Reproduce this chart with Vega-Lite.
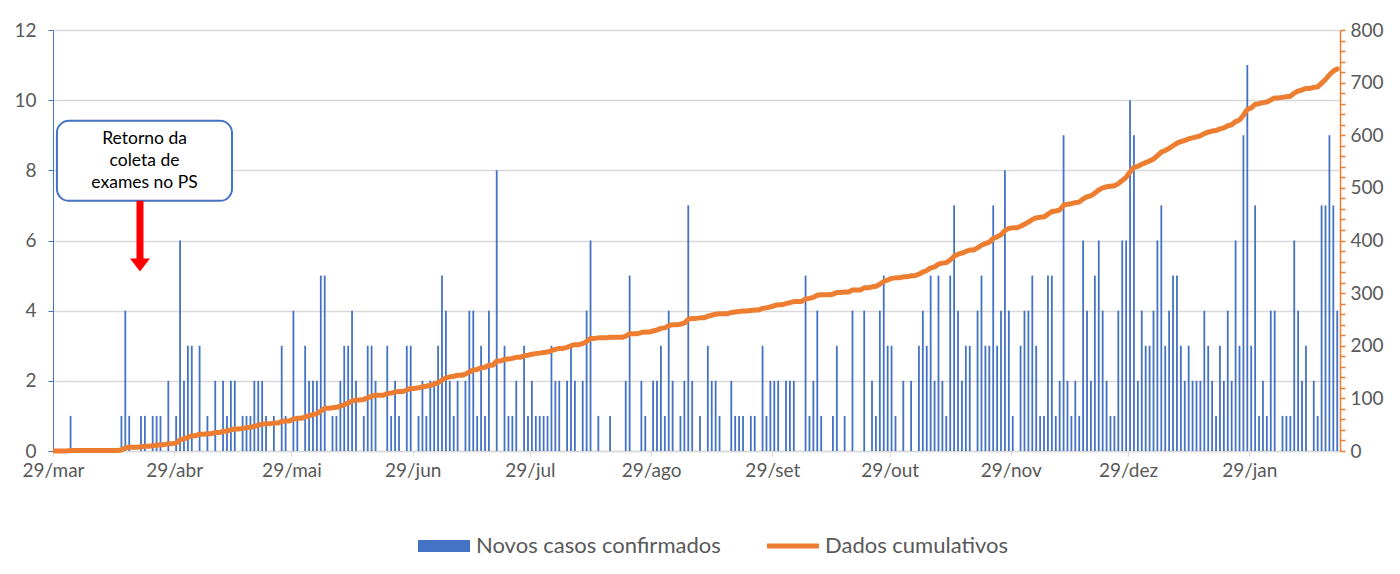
{
"$schema": "https://vega.github.io/schema/vega-lite/v6.json",
"width": 1287,
"height": 421,
"autosize": {"type": "none"},
"padding": {"left": 53, "top": 30, "right": 60, "bottom": 123},
"background": "white",
"config": {"font": "Lato", "view": {"stroke": null}},
"data": {"values": [
{"dia":"2020-03-29","casos":0},{"dia":"2020-03-30","casos":0},{"dia":"2020-03-31","casos":0},
{"dia":"2020-04-01","casos":0},{"dia":"2020-04-02","casos":1},{"dia":"2020-04-03","casos":0},{"dia":"2020-04-04","casos":0},{"dia":"2020-04-05","casos":0},{"dia":"2020-04-06","casos":0},{"dia":"2020-04-07","casos":0},{"dia":"2020-04-08","casos":0},{"dia":"2020-04-09","casos":0},{"dia":"2020-04-10","casos":0},{"dia":"2020-04-11","casos":0},{"dia":"2020-04-12","casos":0},{"dia":"2020-04-13","casos":0},{"dia":"2020-04-14","casos":0},{"dia":"2020-04-15","casos":1},{"dia":"2020-04-16","casos":4},{"dia":"2020-04-17","casos":1},{"dia":"2020-04-18","casos":0},{"dia":"2020-04-19","casos":0},{"dia":"2020-04-20","casos":1},{"dia":"2020-04-21","casos":1},{"dia":"2020-04-22","casos":0},{"dia":"2020-04-23","casos":1},{"dia":"2020-04-24","casos":1},{"dia":"2020-04-25","casos":1},{"dia":"2020-04-26","casos":0},{"dia":"2020-04-27","casos":2},{"dia":"2020-04-28","casos":0},{"dia":"2020-04-29","casos":1},{"dia":"2020-04-30","casos":6},
{"dia":"2020-05-01","casos":2},{"dia":"2020-05-02","casos":3},{"dia":"2020-05-03","casos":3},{"dia":"2020-05-04","casos":0},{"dia":"2020-05-05","casos":3},{"dia":"2020-05-06","casos":0},{"dia":"2020-05-07","casos":1},{"dia":"2020-05-08","casos":0},{"dia":"2020-05-09","casos":2},{"dia":"2020-05-10","casos":0},{"dia":"2020-05-11","casos":2},{"dia":"2020-05-12","casos":1},{"dia":"2020-05-13","casos":2},{"dia":"2020-05-14","casos":2},{"dia":"2020-05-15","casos":0},{"dia":"2020-05-16","casos":1},{"dia":"2020-05-17","casos":1},{"dia":"2020-05-18","casos":1},{"dia":"2020-05-19","casos":2},{"dia":"2020-05-20","casos":2},{"dia":"2020-05-21","casos":2},{"dia":"2020-05-22","casos":1},{"dia":"2020-05-23","casos":0},{"dia":"2020-05-24","casos":1},{"dia":"2020-05-25","casos":0},{"dia":"2020-05-26","casos":3},{"dia":"2020-05-27","casos":1},{"dia":"2020-05-28","casos":0},{"dia":"2020-05-29","casos":4},{"dia":"2020-05-30","casos":1},{"dia":"2020-05-31","casos":0},
{"dia":"2020-06-01","casos":3},{"dia":"2020-06-02","casos":2},{"dia":"2020-06-03","casos":2},{"dia":"2020-06-04","casos":2},{"dia":"2020-06-05","casos":5},{"dia":"2020-06-06","casos":5},{"dia":"2020-06-07","casos":0},{"dia":"2020-06-08","casos":1},{"dia":"2020-06-09","casos":1},{"dia":"2020-06-10","casos":2},{"dia":"2020-06-11","casos":3},{"dia":"2020-06-12","casos":3},{"dia":"2020-06-13","casos":4},{"dia":"2020-06-14","casos":2},{"dia":"2020-06-15","casos":0},{"dia":"2020-06-16","casos":1},{"dia":"2020-06-17","casos":3},{"dia":"2020-06-18","casos":3},{"dia":"2020-06-19","casos":2},{"dia":"2020-06-20","casos":0},{"dia":"2020-06-21","casos":0},{"dia":"2020-06-22","casos":3},{"dia":"2020-06-23","casos":1},{"dia":"2020-06-24","casos":2},{"dia":"2020-06-25","casos":1},{"dia":"2020-06-26","casos":0},{"dia":"2020-06-27","casos":3},{"dia":"2020-06-28","casos":3},{"dia":"2020-06-29","casos":0},{"dia":"2020-06-30","casos":1},
{"dia":"2020-07-01","casos":2},{"dia":"2020-07-02","casos":1},{"dia":"2020-07-03","casos":2},{"dia":"2020-07-04","casos":2},{"dia":"2020-07-05","casos":3},{"dia":"2020-07-06","casos":5},{"dia":"2020-07-07","casos":4},{"dia":"2020-07-08","casos":2},{"dia":"2020-07-09","casos":1},{"dia":"2020-07-10","casos":2},{"dia":"2020-07-11","casos":0},{"dia":"2020-07-12","casos":2},{"dia":"2020-07-13","casos":4},{"dia":"2020-07-14","casos":4},{"dia":"2020-07-15","casos":1},{"dia":"2020-07-16","casos":3},{"dia":"2020-07-17","casos":1},{"dia":"2020-07-18","casos":4},{"dia":"2020-07-19","casos":0},{"dia":"2020-07-20","casos":8},{"dia":"2020-07-21","casos":0},{"dia":"2020-07-22","casos":3},{"dia":"2020-07-23","casos":1},{"dia":"2020-07-24","casos":1},{"dia":"2020-07-25","casos":2},{"dia":"2020-07-26","casos":0},{"dia":"2020-07-27","casos":3},{"dia":"2020-07-28","casos":1},{"dia":"2020-07-29","casos":2},{"dia":"2020-07-30","casos":1},{"dia":"2020-07-31","casos":1},
{"dia":"2020-08-01","casos":1},{"dia":"2020-08-02","casos":1},{"dia":"2020-08-03","casos":3},{"dia":"2020-08-04","casos":2},{"dia":"2020-08-05","casos":2},{"dia":"2020-08-06","casos":0},{"dia":"2020-08-07","casos":2},{"dia":"2020-08-08","casos":3},{"dia":"2020-08-09","casos":2},{"dia":"2020-08-10","casos":0},{"dia":"2020-08-11","casos":2},{"dia":"2020-08-12","casos":4},{"dia":"2020-08-13","casos":6},{"dia":"2020-08-14","casos":0},{"dia":"2020-08-15","casos":1},{"dia":"2020-08-16","casos":0},{"dia":"2020-08-17","casos":0},{"dia":"2020-08-18","casos":1},{"dia":"2020-08-19","casos":0},{"dia":"2020-08-20","casos":0},{"dia":"2020-08-21","casos":0},{"dia":"2020-08-22","casos":2},{"dia":"2020-08-23","casos":5},{"dia":"2020-08-24","casos":0},{"dia":"2020-08-25","casos":0},{"dia":"2020-08-26","casos":2},{"dia":"2020-08-27","casos":1},{"dia":"2020-08-28","casos":0},{"dia":"2020-08-29","casos":2},{"dia":"2020-08-30","casos":2},{"dia":"2020-08-31","casos":3},
{"dia":"2020-09-01","casos":1},{"dia":"2020-09-02","casos":4},{"dia":"2020-09-03","casos":2},{"dia":"2020-09-04","casos":0},{"dia":"2020-09-05","casos":1},{"dia":"2020-09-06","casos":2},{"dia":"2020-09-07","casos":7},{"dia":"2020-09-08","casos":2},{"dia":"2020-09-09","casos":0},{"dia":"2020-09-10","casos":1},{"dia":"2020-09-11","casos":0},{"dia":"2020-09-12","casos":3},{"dia":"2020-09-13","casos":2},{"dia":"2020-09-14","casos":2},{"dia":"2020-09-15","casos":1},{"dia":"2020-09-16","casos":0},{"dia":"2020-09-17","casos":0},{"dia":"2020-09-18","casos":2},{"dia":"2020-09-19","casos":1},{"dia":"2020-09-20","casos":1},{"dia":"2020-09-21","casos":1},{"dia":"2020-09-22","casos":0},{"dia":"2020-09-23","casos":1},{"dia":"2020-09-24","casos":1},{"dia":"2020-09-25","casos":0},{"dia":"2020-09-26","casos":3},{"dia":"2020-09-27","casos":1},{"dia":"2020-09-28","casos":2},{"dia":"2020-09-29","casos":2},{"dia":"2020-09-30","casos":2},
{"dia":"2020-10-01","casos":0},{"dia":"2020-10-02","casos":2},{"dia":"2020-10-03","casos":2},{"dia":"2020-10-04","casos":2},{"dia":"2020-10-05","casos":0},{"dia":"2020-10-06","casos":0},{"dia":"2020-10-07","casos":5},{"dia":"2020-10-08","casos":1},{"dia":"2020-10-09","casos":2},{"dia":"2020-10-10","casos":4},{"dia":"2020-10-11","casos":1},{"dia":"2020-10-12","casos":0},{"dia":"2020-10-13","casos":0},{"dia":"2020-10-14","casos":1},{"dia":"2020-10-15","casos":3},{"dia":"2020-10-16","casos":0},{"dia":"2020-10-17","casos":1},{"dia":"2020-10-18","casos":0},{"dia":"2020-10-19","casos":4},{"dia":"2020-10-20","casos":0},{"dia":"2020-10-21","casos":0},{"dia":"2020-10-22","casos":4},{"dia":"2020-10-23","casos":0},{"dia":"2020-10-24","casos":2},{"dia":"2020-10-25","casos":1},{"dia":"2020-10-26","casos":4},{"dia":"2020-10-27","casos":5},{"dia":"2020-10-28","casos":3},{"dia":"2020-10-29","casos":3},{"dia":"2020-10-30","casos":1},{"dia":"2020-10-31","casos":0},
{"dia":"2020-11-01","casos":2},{"dia":"2020-11-02","casos":0},{"dia":"2020-11-03","casos":2},{"dia":"2020-11-04","casos":0},{"dia":"2020-11-05","casos":3},{"dia":"2020-11-06","casos":4},{"dia":"2020-11-07","casos":3},{"dia":"2020-11-08","casos":5},{"dia":"2020-11-09","casos":2},{"dia":"2020-11-10","casos":5},{"dia":"2020-11-11","casos":2},{"dia":"2020-11-12","casos":1},{"dia":"2020-11-13","casos":5},{"dia":"2020-11-14","casos":7},{"dia":"2020-11-15","casos":4},{"dia":"2020-11-16","casos":2},{"dia":"2020-11-17","casos":3},{"dia":"2020-11-18","casos":3},{"dia":"2020-11-19","casos":0},{"dia":"2020-11-20","casos":4},{"dia":"2020-11-21","casos":5},{"dia":"2020-11-22","casos":3},{"dia":"2020-11-23","casos":3},{"dia":"2020-11-24","casos":7},{"dia":"2020-11-25","casos":3},{"dia":"2020-11-26","casos":4},{"dia":"2020-11-27","casos":8},{"dia":"2020-11-28","casos":4},{"dia":"2020-11-29","casos":1},{"dia":"2020-11-30","casos":0},
{"dia":"2020-12-01","casos":3},{"dia":"2020-12-02","casos":4},{"dia":"2020-12-03","casos":4},{"dia":"2020-12-04","casos":5},{"dia":"2020-12-05","casos":3},{"dia":"2020-12-06","casos":1},{"dia":"2020-12-07","casos":1},{"dia":"2020-12-08","casos":5},{"dia":"2020-12-09","casos":5},{"dia":"2020-12-10","casos":1},{"dia":"2020-12-11","casos":2},{"dia":"2020-12-12","casos":9},{"dia":"2020-12-13","casos":2},{"dia":"2020-12-14","casos":1},{"dia":"2020-12-15","casos":2},{"dia":"2020-12-16","casos":1},{"dia":"2020-12-17","casos":6},{"dia":"2020-12-18","casos":4},{"dia":"2020-12-19","casos":2},{"dia":"2020-12-20","casos":5},{"dia":"2020-12-21","casos":6},{"dia":"2020-12-22","casos":4},{"dia":"2020-12-23","casos":2},{"dia":"2020-12-24","casos":1},{"dia":"2020-12-25","casos":1},{"dia":"2020-12-26","casos":4},{"dia":"2020-12-27","casos":6},{"dia":"2020-12-28","casos":6},{"dia":"2020-12-29","casos":10},{"dia":"2020-12-30","casos":9},{"dia":"2020-12-31","casos":2},
{"dia":"2021-01-01","casos":4},{"dia":"2021-01-02","casos":3},{"dia":"2021-01-03","casos":3},{"dia":"2021-01-04","casos":4},{"dia":"2021-01-05","casos":6},{"dia":"2021-01-06","casos":7},{"dia":"2021-01-07","casos":3},{"dia":"2021-01-08","casos":4},{"dia":"2021-01-09","casos":5},{"dia":"2021-01-10","casos":5},{"dia":"2021-01-11","casos":3},{"dia":"2021-01-12","casos":2},{"dia":"2021-01-13","casos":3},{"dia":"2021-01-14","casos":2},{"dia":"2021-01-15","casos":2},{"dia":"2021-01-16","casos":2},{"dia":"2021-01-17","casos":4},{"dia":"2021-01-18","casos":3},{"dia":"2021-01-19","casos":2},{"dia":"2021-01-20","casos":1},{"dia":"2021-01-21","casos":3},{"dia":"2021-01-22","casos":2},{"dia":"2021-01-23","casos":4},{"dia":"2021-01-24","casos":2},{"dia":"2021-01-25","casos":6},{"dia":"2021-01-26","casos":3},{"dia":"2021-01-27","casos":9},{"dia":"2021-01-28","casos":11},{"dia":"2021-01-29","casos":3},{"dia":"2021-01-30","casos":7},{"dia":"2021-01-31","casos":1},
{"dia":"2021-02-01","casos":2},{"dia":"2021-02-02","casos":1},{"dia":"2021-02-03","casos":4},{"dia":"2021-02-04","casos":4},{"dia":"2021-02-05","casos":0},{"dia":"2021-02-06","casos":1},{"dia":"2021-02-07","casos":1},{"dia":"2021-02-08","casos":1},{"dia":"2021-02-09","casos":6},{"dia":"2021-02-10","casos":4},{"dia":"2021-02-11","casos":2},{"dia":"2021-02-12","casos":3},{"dia":"2021-02-13","casos":0},{"dia":"2021-02-14","casos":2},{"dia":"2021-02-15","casos":1},{"dia":"2021-02-16","casos":7},{"dia":"2021-02-17","casos":7},{"dia":"2021-02-18","casos":9},{"dia":"2021-02-19","casos":7},{"dia":"2021-02-20","casos":4}
]},
"layer": [
{
"layer": [
{
"mark": {"type": "bar", "width": 1.8},
"encoding": {
"x": {"field": "dia", "type": "temporal",
"scale": {"type": "utc", "padding": 0, "domain": [{"year": 2020, "month": 3, "date": 28, "hours": 12, "utc": true}, {"year": 2021, "month": 2, "date": 20, "hours": 17, "utc": true}]},
"axis": {"title": null, "grid": false,
"values": [{"year": 2020, "month": 3, "date": 28, "hours": 12, "utc": true}, {"year": 2020, "month": 4, "date": 28, "hours": 12, "utc": true}, {"year": 2020, "month": 5, "date": 28, "hours": 12, "utc": true}, {"year": 2020, "month": 6, "date": 28, "hours": 12, "utc": true}, {"year": 2020, "month": 7, "date": 28, "hours": 12, "utc": true}, {"year": 2020, "month": 8, "date": 28, "hours": 12, "utc": true}, {"year": 2020, "month": 9, "date": 28, "hours": 12, "utc": true}, {"year": 2020, "month": 10, "date": 28, "hours": 12, "utc": true}, {"year": 2020, "month": 11, "date": 28, "hours": 12, "utc": true}, {"year": 2020, "month": 12, "date": 28, "hours": 12, "utc": true}, {"year": 2021, "month": 1, "date": 28, "hours": 12, "utc": true}],
"labelExpr": "'29/' + ['jan','fev','mar','abr','mai','jun','jul','ago','set','out','nov','dez'][utcmonth(datum.value)]",
"domainColor": "#D9D9D9", "domainWidth": 1.3, "tickColor": "#D9D9D9", "tickSize": 5,
"labelColor": "#595959", "labelFontSize": 19, "labelPadding": 5, "labelFlush": false, "labelOverlap": false, "labelBound": false}},
"y": {"field": "casos", "type": "quantitative", "scale": {"domain": [0, 12]},
"axis": {"title": null, "values": [0, 2, 4, 6, 8, 10, 12], "grid": true, "gridColor": "#D9D9D9", "gridWidth": 1.3,
"domainColor": "#4472C4", "tickColor": "#4472C4", "tickSize": 5, "labelColor": "#595959", "labelFontSize": 19, "labelPadding": 12}},
"color": {"datum": "Novos casos confirmados", "type": "nominal",
"scale": {"domain": ["Novos casos confirmados", "Dados cumulativos"], "range": ["#4472C4", "#ED7D31"]},
"legend": {"orient": "none", "legendX": 365, "legendY": 490, "direction": "horizontal", "title": null, "padding": 0,
"symbolType": "M-1,-0.23L1,-0.23L1,0.23L-1,0.23Z", "symbolSize": 2704, "symbolStrokeWidth": 0,
"labelFontSize": 22, "labelColor": "#595959", "labelOffset": 6, "labelLimit": 600, "columnPadding": 46,
"encode": {"symbols": {"update": {
"shape": {"signal": "datum.value === 'Dados cumulativos' ? 'M-1,-0.1L1,-0.1L1,0.1L-1,0.1Z' : 'M-1,-0.23L1,-0.23L1,0.23L-1,0.23Z'"},
"fill": {"signal": "datum.value === 'Dados cumulativos' ? '#ED7D31' : '#4472C4'"},
"opacity": {"value": 1}, "strokeWidth": {"value": 0}}}}}}
}
},
{
"data": {"values": [{"inicio": "2020-03-29T12:00:00Z", "fim": "2020-05-13T07:00:00Z", "topo": 9.41, "base": 7.13}]},
"mark": {"type": "rect", "fill": "white", "stroke": "#4472C4", "strokeWidth": 2, "cornerRadius": 12},
"encoding": {
"x": {"field": "inicio", "type": "temporal", "title": null, "scale": {"type": "utc", "padding": 0, "domain": [{"year": 2020, "month": 3, "date": 28, "hours": 12, "utc": true}, {"year": 2021, "month": 2, "date": 20, "hours": 17, "utc": true}]}},
"x2": {"field": "fim"},
"y": {"field": "topo", "type": "quantitative", "title": null, "scale": {"domain": [0, 12]}},
"y2": {"field": "base"}
}
},
{
"data": {"values": [{"dia": "2020-04-20T22:00:00Z", "valor": 8.89, "texto": "Retorno da\ncoleta de\nexames no PS"}]},
"mark": {"type": "text", "fontSize": 17.5, "color": "#000000", "lineBreak": "\n", "lineHeight": 22, "align": "center", "baseline": "middle"},
"encoding": {
"x": {"field": "dia", "type": "temporal", "title": null, "scale": {"type": "utc", "padding": 0, "domain": [{"year": 2020, "month": 3, "date": 28, "hours": 12, "utc": true}, {"year": 2021, "month": 2, "date": 20, "hours": 17, "utc": true}]}},
"y": {"field": "valor", "type": "quantitative", "title": null, "scale": {"domain": [0, 12]}},
"text": {"field": "texto"}
}
},
{
"data": {"values": [{"dia": "2020-04-19T18:00:00Z", "inicio": 7.13, "fim": 5.45}]},
"mark": {"type": "rule", "color": "#FF0000", "strokeWidth": 7},
"encoding": {
"x": {"field": "dia", "type": "temporal", "title": null, "scale": {"type": "utc", "padding": 0, "domain": [{"year": 2020, "month": 3, "date": 28, "hours": 12, "utc": true}, {"year": 2021, "month": 2, "date": 20, "hours": 17, "utc": true}]}},
"y": {"field": "inicio", "type": "quantitative", "title": null, "scale": {"domain": [0, 12]}},
"y2": {"field": "fim"}
}
},
{
"data": {"values": [{"dia": "2020-04-19T18:00:00Z", "valor": 5.3}]},
"mark": {"type": "point", "shape": "M-1,-0.65L1,-0.65L0,0.65Z", "size": 400, "filled": true, "color": "#FF0000", "opacity": 1, "strokeWidth": 0},
"encoding": {
"x": {"field": "dia", "type": "temporal", "title": null, "scale": {"type": "utc", "padding": 0, "domain": [{"year": 2020, "month": 3, "date": 28, "hours": 12, "utc": true}, {"year": 2021, "month": 2, "date": 20, "hours": 17, "utc": true}]}},
"y": {"field": "valor", "type": "quantitative", "title": null, "scale": {"domain": [0, 12]}}
}
}
]
},
{
"transform": [{"window": [{"op": "sum", "field": "casos", "as": "acumulado"}], "sort": [{"field": "dia", "order": "ascending"}], "frame": [null, 0]}],
"mark": {"type": "line", "strokeWidth": 5, "strokeCap": "round", "strokeJoin": "round"},
"encoding": {
"x": {"field": "dia", "type": "temporal", "title": null, "scale": {"type": "utc", "padding": 0, "domain": [{"year": 2020, "month": 3, "date": 28, "hours": 12, "utc": true}, {"year": 2021, "month": 2, "date": 20, "hours": 17, "utc": true}]}},
"y": {"field": "acumulado", "type": "quantitative", "scale": {"domain": [0, 800]},
"axis": {"orient": "right", "title": null, "grid": false,
"values": [0, 20, 40, 60, 80, 100, 120, 140, 160, 180, 200, 220, 240, 260, 280, 300, 320, 340, 360, 380, 400, 420, 440, 460, 480, 500, 520, 540, 560, 580, 600, 620, 640, 660, 680, 700, 720, 740, 760, 780, 800],
"labelExpr": "datum.value % 100 === 0 ? datum.label : ''",
"domainColor": "#ED7D31", "domainWidth": 1.5, "tickColor": "#ED7D31", "tickWidth": 1.5, "tickSize": 5,
"labelColor": "#595959", "labelFontSize": 19, "labelPadding": 5, "labelOverlap": false}},
"color": {"datum": "Dados cumulativos", "type": "nominal"}
}
}
],
"resolve": {"scale": {"y": "independent"}}
}
